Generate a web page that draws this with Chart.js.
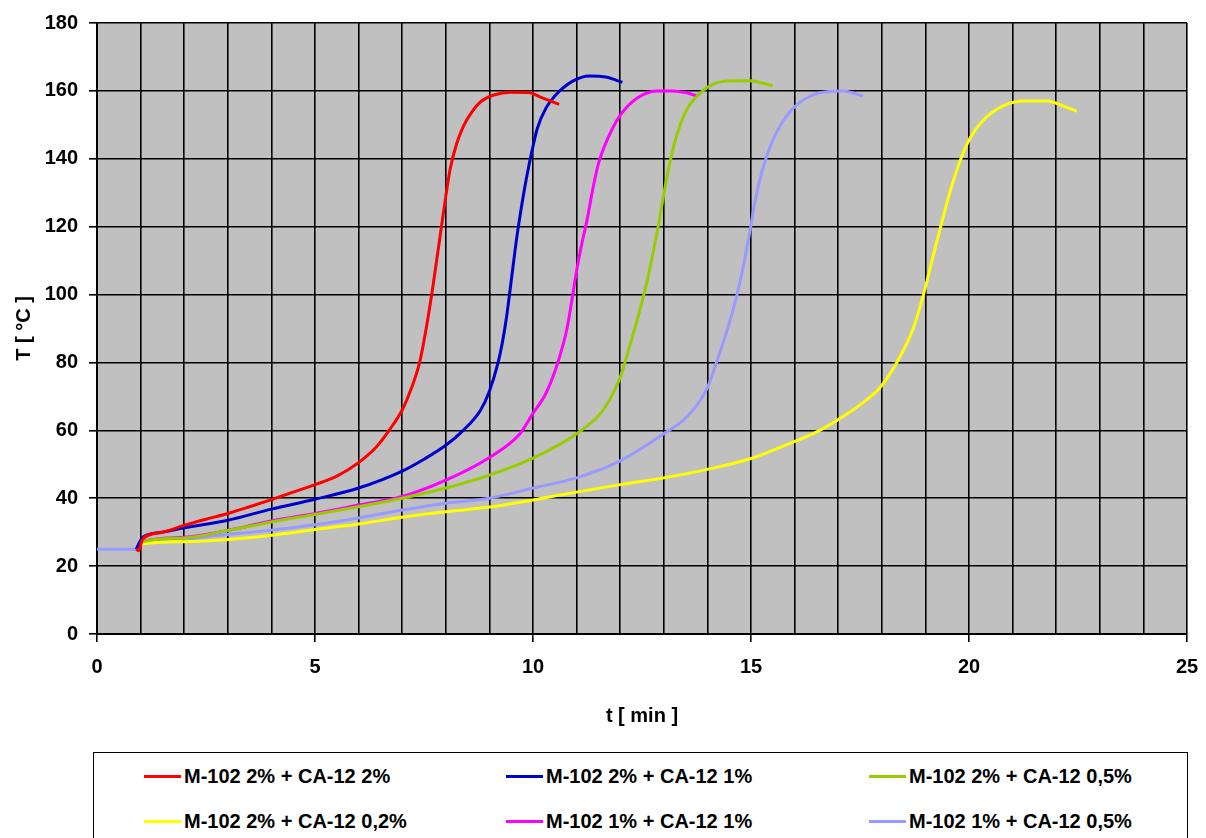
<!DOCTYPE html>
<html>
<head>
<meta charset="utf-8">
<script src="https://cdn.jsdelivr.net/npm/chart.js@4"></script>
<style>
  body { margin: 0; background: #fff; width: 1206px; height: 838px; overflow: hidden; position: relative; font-family: 'Liberation Sans', Arial, sans-serif; }
  #wrap { position: absolute; left: 0; top: 0; width: 1206px; height: 740px; }
  #legend { position: absolute; left: 93px; top: 752px; width: 1095px; height: 120px; border: 1.5px solid #000; box-sizing: border-box; }
  #legend .item { position: absolute; height: 24px; line-height: 24px; font-weight: bold; font-size: 20px; color: #000; white-space: nowrap; }
  #legend .swatch { display: inline-block; width: 37px; height: 3px; vertical-align: middle; margin-right: 3px; position: relative; top: -1px; }
</style>
</head>
<body>
<div id="wrap"><canvas id="tempChart" width="1206" height="740"></canvas></div>
<div id="legend"></div>
<script>
// -------------------------------
// Data (t [min], T [°C])
// -------------------------------
const seriesNames = [
  'M-102 2% + CA-12 2%',
  'M-102 2% + CA-12 1%',
  'M-102 2% + CA-12 0,5%',
  'M-102 2% + CA-12 0,2%',
  'M-102 1% + CA-12 1%',
  'M-102 1% + CA-12 0,5%'
];
const seriesColors = ['#ff0000', '#0000cc', '#99cc00', '#ffff00', '#ff00ff', '#9999ff'];

const xTicks = [0, 5, 10, 15, 20, 25];
const yTicks = [0, 20, 40, 60, 80, 100, 120, 140, 160, 180];

const red = [[0.9,25],[0.95,24.5],[1.05,28],[1.5,30],[2,32],[2.5,33.8],[3,35.5],[3.5,37.5],[4,39.6],[4.5,41.8],[5,44],[5.5,46.5],[6,50.5],[6.4,55],[6.7,60],[7,66],[7.2,72],[7.4,80],[7.55,90],[7.7,102],[7.8,111],[7.9,120],[8,129],[8.1,137],[8.25,144.5],[8.4,149.5],[8.6,153.8],[8.8,156.8],[9.1,158.8],[9.5,159.6],[9.9,159.5],[10.2,158],[10.6,156]];
const blue = [[0.9,25],[1.05,28.5],[1.5,30],[2,31.3],[3,33.5],[4,36.8],[5,39.7],[6,43],[7,48],[7.5,51.5],[8,55.6],[8.4,60],[8.8,66],[9,71.5],[9.2,80],[9.3,86],[9.4,94],[9.5,104],[9.63,117],[9.75,127],[9.86,135],[9.98,142.5],[10.1,149],[10.3,155],[10.5,158.5],[10.9,162.8],[11.3,164.4],[11.7,164],[12.05,162.5]];
const green = [[0.9,25],[1,27],[2,28.3],[3,30.5],[4,33],[5,35.2],[6,37.5],[7,40],[8,43],[9,46.8],[10,51.8],[11,59],[11.55,65],[11.8,70],[12,75.6],[12.2,84],[12.4,93],[12.6,103],[12.75,112],[12.87,120],[13.02,131],[13.15,139.5],[13.3,147],[13.53,154.5],[13.83,159.3],[14.13,162],[14.6,163],[14.97,163],[15.5,161.5]];
const yellow = [[0.9,25],[1,26.5],[2,27.2],[2.75,27.6],[4,29.1],[5,30.8],[6,32.4],[7,34.4],[8,36],[9,37.4],[10,39.5],[11,41.8],[12,44],[13,46],[14,48.5],[15,51.7],[15.67,55],[16.58,60],[17.04,63.5],[17.5,67.5],[17.96,72.6],[18.37,80.6],[18.72,90],[18.95,99.7],[19.17,111],[19.35,120],[19.57,130.5],[19.8,139.5],[20.02,146],[20.3,151],[20.78,155.6],[21.3,157],[21.8,157],[22.15,155.6],[22.47,154]];
const magenta = [[0.9,25],[1,27],[2,28.5],[3,30.5],[4,33.3],[5,35.5],[6,38],[7,40.5],[8,45.3],[9,52],[9.7,59],[10,65],[10.3,71],[10.57,80],[10.78,90],[10.9,99],[11,107],[11.12,115],[11.24,122],[11.37,131],[11.5,138.5],[11.77,147.5],[12.04,153.5],[12.4,158],[12.84,160],[13.2,160],[13.5,159.5],[13.76,158.5]];
const lavender = [[0,25],[0.88,25],[1.05,27.6],[2,28],[2.75,29],[4,30.6],[5,32.2],[6,34.2],[7,36.5],[8,38.5],[9,40],[10,43],[11,46],[12,51],[13,59],[13.53,64],[14,72.6],[14.22,80.5],[14.45,89.4],[14.68,100],[14.85,110],[14.98,119],[15.1,128],[15.28,137.5],[15.5,145.5],[15.73,151],[16,155.3],[16.5,159.2],[17.1,160],[17.57,158.5]];

const seriesData = [red, blue, green, yellow, magenta, lavender];

// -------------------------------
// Chart.js
// -------------------------------
const axisFont = { family: "'Liberation Sans', Arial, sans-serif", size: 20, weight: 'bold' };

const plotBg = {
  id: 'plotBg',
  beforeDraw(chart) {
    const { ctx, chartArea: a } = chart;
    ctx.save();
    ctx.fillStyle = '#c0c0c0';
    ctx.fillRect(a.left, a.top, a.right - a.left, a.bottom - a.top);
    ctx.restore();
  }
};

new Chart(document.getElementById('tempChart'), {
  type: 'scatter',
  data: {
    datasets: seriesNames.map((name, i) => ({
      label: name,
      data: seriesData[i].map(p => ({ x: p[0], y: p[1] })),
      borderColor: seriesColors[i],
      backgroundColor: seriesColors[i],
      borderWidth: 3,
      showLine: true,
      pointRadius: 0,
      cubicInterpolationMode: 'monotone'
    }))
  },
  options: {
    responsive: false,
    animation: false,
    layout: { padding: { top: 22, right: 19, left: 0, bottom: 0 } },
    plugins: { legend: { display: false }, tooltip: { enabled: false } },
    scales: {
      x: {
        type: 'linear', min: 0, max: 25,
        ticks: {
          stepSize: 1, autoSkip: false, maxRotation: 0, color: '#000', font: axisFont, padding: 13,
          callback: v => xTicks.includes(v) ? String(v) : ''
        },
        grid: {
          color: '#000', lineWidth: 1.6, tickLength: 8,
          tickColor: c => xTicks.includes(c.tick.value) ? '#000' : 'rgba(0,0,0,0)'
        },
        border: { color: '#000', width: 2 },
        title: { display: true, text: 't [ min ]', color: '#000', font: axisFont, padding: { top: 0, bottom: 12 } },
        afterFit: s => { s.height = 106; s.paddingLeft = 0; s.paddingRight = 0; }
      },
      y: {
        min: 0, max: 180,
        afterBuildTicks: s => { s.ticks = yTicks.map(v => ({ value: v })); },
        ticks: { color: '#000', font: axisFont, padding: 11 },
        grid: { color: '#000', lineWidth: 1.6, tickLength: 8, tickColor: '#000' },
        border: { color: '#000', width: 2 },
        title: { display: true, text: 'T [ °C ]', color: '#000', font: axisFont, padding: { top: 12, bottom: 0 } },
        afterFit: s => { s.width = 97; }
      }
    }
  },
  plugins: [plotBg]
});

// -------------------------------
// Legend box (3 columns x 2 rows)
// -------------------------------
const legend = document.getElementById('legend');
const colLeft = [50, 412, 775];
const rowTop = [11, 56];
seriesNames.forEach((name, i) => {
  const item = document.createElement('div');
  item.className = 'item';
  item.style.left = colLeft[i % 3] + 'px';
  item.style.top = rowTop[Math.floor(i / 3)] + 'px';
  const sw = document.createElement('span');
  sw.className = 'swatch';
  sw.style.background = seriesColors[i];
  item.appendChild(sw);
  item.appendChild(document.createTextNode(name));
  legend.appendChild(item);
});
</script>
</body>
</html>
